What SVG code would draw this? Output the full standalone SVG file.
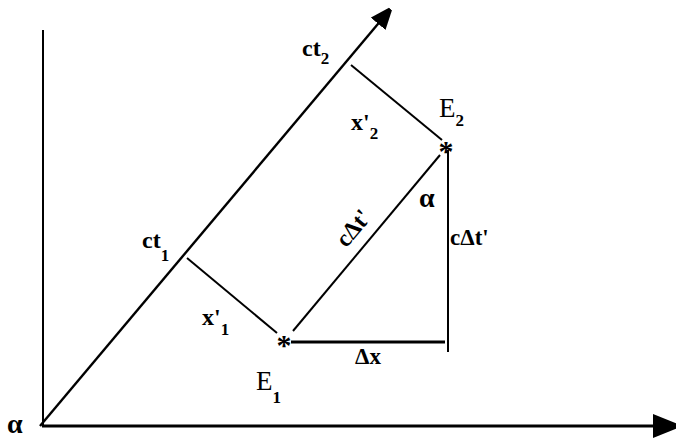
<svg xmlns="http://www.w3.org/2000/svg" width="676" height="438" viewBox="0 0 676 438">
<style>
.ln{stroke:#000;fill:none;stroke-linecap:butt}
.t{font-family:"Liberation Serif","Times New Roman",serif;fill:#000}
.sub{font-size:17px}
</style>
<defs>
<marker id="ah" viewBox="0 0 10 10" refX="8" refY="5" markerWidth="8" markerHeight="8" markerUnits="strokeWidth" orient="auto">
<path d="M0,0 L10,4 L10,6 L0,10 Z" fill="#000"/>
</marker>
</defs>
<rect width="676" height="438" fill="#fff"/>
<g id="connectors">
<line class="ln" x1="43" y1="30" x2="43" y2="427" stroke-width="2"/>
<line class="ln" x1="42" y1="426" x2="672" y2="426" stroke-width="3" marker-end="url(#ah)"/>
<line class="ln" x1="40" y1="426" x2="388" y2="12" stroke-width="2.4" marker-end="url(#ah)"/>
<line class="ln" x1="187" y1="258" x2="277" y2="333" stroke-width="2"/>
<line class="ln" x1="351" y1="65" x2="442" y2="140" stroke-width="2"/>
<line class="ln" x1="293" y1="331" x2="440" y2="155" stroke-width="2"/>
<line class="ln" x1="291" y1="342" x2="445" y2="342" stroke-width="3"/>
<line class="ln" x1="448" y1="150" x2="448" y2="352" stroke-width="2"/>
</g>
<g id="E1">
<text class="t" x="284" y="355" font-size="30" font-weight="bold" text-anchor="middle">*</text>
<text class="t" x="256" y="390" font-size="27">E<tspan class="sub" dy="13" font-weight="bold">1</tspan></text>
</g>
<g id="E2">
<text class="t" x="446" y="161" font-size="30" font-weight="bold" text-anchor="middle">*</text>
<text class="t" x="439" y="117" font-size="27">E<tspan class="sub" dy="9" font-weight="bold">2</tspan></text>
</g>
<g id="labels">
<text class="t" x="142" y="248" font-size="24" font-weight="bold">ct<tspan class="sub" dy="13">1</tspan></text>
<text class="t" x="302" y="56" font-size="24" font-weight="bold">ct<tspan class="sub" dy="8">2</tspan></text>
<text class="t" x="351" y="130" font-size="24" font-weight="bold">x'<tspan class="sub" dy="9">2</tspan></text>
<text class="t" x="202" y="325" font-size="24" font-weight="bold">x'<tspan class="sub" dy="10">1</tspan></text>
<text class="t" x="419" y="207" font-size="28" font-weight="bold">α</text>
<text class="t" x="450" y="245" font-size="23" font-weight="bold">cΔt'</text>
<text class="t" x="355" y="364" font-size="23" font-weight="bold">Δx</text>
<text class="t" x="7" y="433" font-size="28" font-weight="bold">α</text>
<text class="t" transform="translate(353,228) rotate(-50)" x="0" y="8" font-size="24" font-weight="bold" text-anchor="middle">cΔt'</text>
</g>
</svg>
